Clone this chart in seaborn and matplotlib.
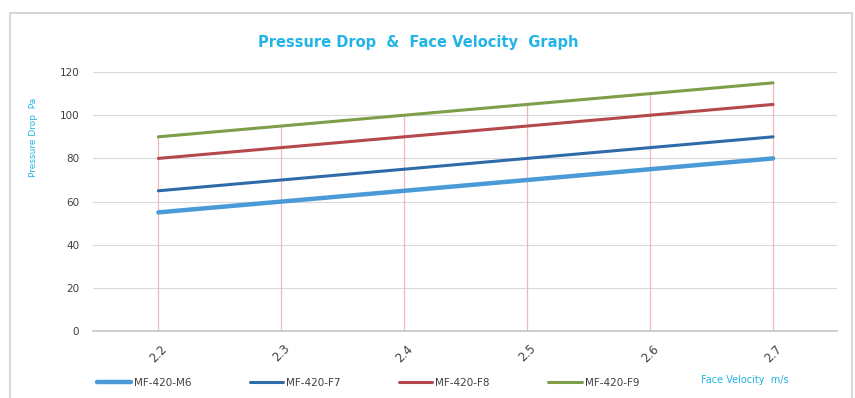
import matplotlib
matplotlib.use("Agg")
import matplotlib.pyplot as plt
import seaborn as sns
import pandas as pd
from matplotlib.patches import Rectangle

velocity = [2.2, 2.3, 2.4, 2.5, 2.6, 2.7]
m6 = [55, 60, 65, 70, 75, 80]
f7 = [65, 70, 75, 80, 85, 90]
f8 = [80, 85, 90, 95, 100, 105]
f9 = [90, 95, 100, 105, 110, 115]
series_names = ["MF-420-M6", "MF-420-F7", "MF-420-F8", "MF-420-F9"]
y_ticks = [0, 20, 40, 60, 80, 100, 120]

rows = []
for name, vals in zip(series_names, [m6, f7, f8, f9]):
    for v, p in zip(velocity, vals):
        rows.append({"Face Velocity": v, "Pressure Drop": p, "Series": name})
df = pd.DataFrame(rows)

sns.set_theme(style="white")
plt.rcParams['font.family'] = ['DejaVu Sans']

fig = plt.figure(figsize=(8.55, 3.98), dpi=100)
ax = fig.add_axes([0.109, 0.168, 0.870, 0.651])

# outer chart border
fig.patches.append(Rectangle((10/855, -0.01), 842/855, 1 - 13/398 + 0.01,
                             transform=fig.transFigure, fill=False,
                             edgecolor="#D0D0D0", linewidth=1.2))

palette = {"MF-420-M6": "#4A9AD8", "MF-420-F7": "#2F6BA8",
           "MF-420-F8": "#B5484A", "MF-420-F9": "#7E9E4A"}
widths = {"MF-420-M6": 3.2, "MF-420-F7": 2.2, "MF-420-F8": 2.2, "MF-420-F9": 2.2}

# drop lines
tops = [max(a, b, c, d) for a, b, c, d in zip(m6, f7, f8, f9)]
ax.vlines(velocity, 0, tops, colors="#F2B8B8", linewidth=0.9, zorder=1)

for name in series_names:
    sub = df[df["Series"] == name]
    sns.lineplot(data=sub, x="Face Velocity", y="Pressure Drop", ax=ax,
                 color=palette[name], linewidth=widths[name], label=name,
                 zorder=3, legend=False)

ax.set_xlim(2.147, 2.752)
ax.set_ylim(0, 120)
ax.set_yticks(y_ticks)
ax.set_yticklabels([str(t) for t in y_ticks], fontsize=7.5, color="#404040")
ax.set_xticks(velocity)
ax.set_xticklabels([str(v) for v in velocity], rotation=45, fontsize=8.5,
                   color="#404040", ha="center")
ax.tick_params(axis="y", length=0, pad=10)
ax.tick_params(axis="x", length=0, pad=8)
ax.grid(axis="y", color="#DADADA", linewidth=0.8)
ax.set_axisbelow(True)
for s in ["top", "right", "left"]:
    ax.spines[s].set_visible(False)
ax.spines["bottom"].set_color("#C8C8C8")
ax.set_xlabel("")
ax.set_ylabel("")

title_color = "#22B4E6"
fig.text(418/855, 1 - 42/398, "Pressure Drop  &  Face Velocity  Graph",
         ha="center", va="center", fontsize=10.5, fontweight="bold", color=title_color)
fig.text(33/855, 1 - 137/398, "Pressure Drop  Pa", rotation=90,
         ha="center", va="center", fontsize=6.5, color=title_color)
fig.text(745/855, 1 - 380/398, "Face Velocity  m/s",
         ha="center", va="center", fontsize=7, color=title_color)

handles, labels = ax.get_legend_handles_labels()
fig.legend(handles, labels, loc="center left", bbox_to_anchor=(88/855, 1 - 383/398),
           ncol=4, frameon=False, fontsize=7.5, handlelength=3.2,
           columnspacing=5.6, handletextpad=0.3, labelcolor="#404040")

fig.savefig("out.png", dpi=100, facecolor="white")
